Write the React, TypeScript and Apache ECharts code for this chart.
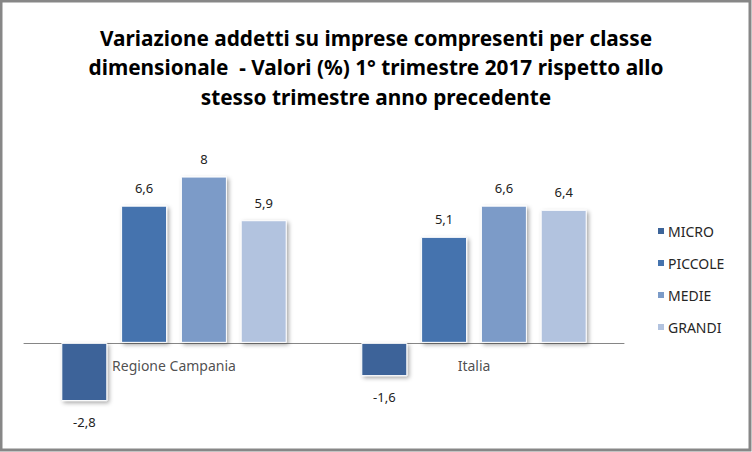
import React, { useEffect, useRef } from "react";
import * as echarts from "echarts";

const categories = ["Regione Campania", "Italia"];
const seriesNames = ["MICRO", "PICCOLE", "MEDIE", "GRANDI"];
const micro = [-2.8, -1.6];
const piccole = [6.6, 5.1];
const medie = [8, 6.6];
const grandi = [5.9, 6.4];
const seriesValues = [micro, piccole, medie, grandi];
const colors = ["#3C6499", "#4573AE", "#7B9BC8", "#B2C3DF"];
const titleText =
  "Variazione addetti su imprese compresenti per classe\ndimensionale  - Valori (%) 1° trimestre 2017 rispetto allo\nstesso trimestre anno precedente";

const fmt = (v: number) => String(v).replace(".", ",");

export default function App() {
  const ref = useRef<HTMLDivElement>(null);
  useEffect(() => {
    document.body.style.margin = "0";
    const chart = echarts.init(ref.current!, null, { renderer: "svg" });
    const labelFont = "'Noto Sans', sans-serif";
    chart.setOption({
      animation: false,
      backgroundColor: "#ffffff",
      title: {
        text: titleText,
        left: "center",
        top: 18,
        textStyle: {
          fontFamily: labelFont,
          fontWeight: "bold",
          fontSize: 20.8,
          lineHeight: 29.5,
          color: "#000000",
        },
      },
      legend: {
        orient: "vertical",
        left: 651,
        top: 219,
        itemWidth: 8,
        itemHeight: 8,
        itemGap: 18,
        icon: "rect",
        data: seriesNames,
        textStyle: { fontFamily: labelFont, fontSize: 14, color: "#262626", padding: [0, 0, 0, -2] },
      },
      graphic: [
        {
          type: "rect",
          shape: { x: 1, y: 1, width: 749, height: 449 },
          style: { fill: "none", stroke: "#878787", lineWidth: 3 },
          silent: true,
        },
      ],
      grid: { left: 24, right: 128, top: 135, bottom: 26 },
      xAxis: {
        type: "category",
        data: categories,
        axisLine: { onZero: true, lineStyle: { color: "#868686", width: 1 } },
        axisTick: { show: false },
        axisLabel: { show: false },
      },
      yAxis: {
        type: "value",
        min: -4,
        max: 10,
        show: false,
        splitLine: { show: false },
      },
      series: [
        ...seriesNames.map((name, i) => ({
          name,
          type: "bar",
          barWidth: 46,
          barGap: "30%",
          itemStyle: {
            color: colors[i],
            borderColor: "#ffffff",
            borderWidth: 1,
            shadowColor: "rgba(0,0,0,0.35)",
            shadowBlur: 4,
            shadowOffsetX: 2,
            shadowOffsetY: 2,
          },
          label: {
            show: true,
            fontFamily: labelFont,
            fontSize: 13,
            color: "#222222",
            formatter: (p: any) => fmt(p.value),
          },
          data: seriesValues[i].map((v) => ({
            value: v,
            label: { position: v < 0 ? "bottom" : "top", distance: v < 0 ? 14 : 11 },
          })),
        })),
        {
          type: "scatter",
          name: "categoryLabels",
          symbolSize: 0,
          silent: true,
          z: 10,
          data: categories.map((c) => [c, 0]),
          label: {
            show: true,
            position: "bottom",
            distance: 16,
            fontFamily: labelFont,
            fontSize: 14,
            color: "#222222",
            formatter: (p: any) => p.value[0],
          },
        },
      ],
    });
    return () => chart.dispose();
  }, []);
  return <div ref={ref} style={{ width: 752, height: 452 }} />;
}
